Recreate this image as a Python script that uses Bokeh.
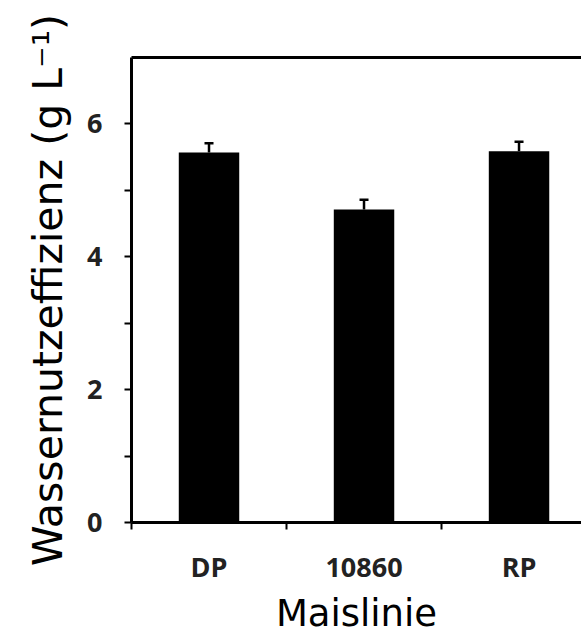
from bokeh.plotting import figure
from bokeh.models import Range1d, FixedTicker, Whisker, TeeHead, LinearAxis, ColumnDataSource
from bokeh.embed import file_html
from bokeh.resources import INLINE

categories = ["DP", "10860", "RP"]
values = [5.57, 4.71, 5.59]
errors = [0.14, 0.15, 0.14]
y_ticks = [0, 2, 4, 6]
y_minor = [1, 3, 5]

xs = list(range(len(categories)))
src = ColumnDataSource(dict(
    x=xs,
    top=values,
    upper=[v + e for v, e in zip(values, errors)],
))

p = figure(width=581, height=637, x_range=Range1d(-0.5, 2.403), y_range=Range1d(0, 7),
           output_backend="svg", toolbar_location=None,
           min_border_left=131, min_border_top=57, min_border_right=0, min_border_bottom=114)
p.outline_line_color = None
p.grid.visible = False
p.background_fill_color = "white"
p.border_fill_color = "white"

p.vbar(x="x", top="top", width=0.39, bottom=0, source=src, fill_color="black", line_color=None)
p.add_layout(Whisker(base="x", upper="upper", lower="top", source=src,
                     line_width=2.5, line_color="black",
                     upper_head=TeeHead(size=9, line_width=2.5, line_color="black"),
                     lower_head=None))

tick_font = "Open Sans"

xa = p.xaxis[0]
xa.ticker = FixedTicker(ticks=xs, minor_ticks=[-0.5, 0.5, 1.5])
xa.major_label_overrides = {i: c for i, c in zip(xs, categories)}
xa.major_tick_line_color = None
xa.major_tick_in = 0
xa.major_tick_out = 0
xa.minor_tick_in = 0
xa.minor_tick_out = 7
xa.minor_tick_line_width = 2
xa.minor_tick_line_color = "black"
xa.axis_line_width = 3
xa.axis_line_color = "black"
xa.major_label_standoff = 18
xa.major_label_text_font = tick_font
xa.major_label_text_font_style = "bold"
xa.major_label_text_font_size = "27px"
xa.major_label_text_color = "#222222"
xa.axis_label = "Maislinie"
xa.axis_label_text_font = "DejaVu Sans"
xa.axis_label_text_font_style = "normal"
xa.axis_label_text_font_size = "37px"
xa.axis_label_text_color = "black"
xa.axis_label_standoff = 4

ya = p.yaxis[0]
ya.ticker = FixedTicker(ticks=y_ticks, minor_ticks=y_minor)
ya.major_tick_in = 0
ya.major_tick_out = 7
ya.minor_tick_in = 0
ya.minor_tick_out = 7
ya.major_tick_line_width = 2
ya.minor_tick_line_width = 2
ya.axis_line_width = 3
ya.axis_line_color = "black"
ya.major_label_standoff = 22
ya.major_label_text_font = tick_font
ya.major_label_text_font_style = "bold"
ya.major_label_text_font_size = "27px"
ya.major_label_text_color = "#222222"
ya.axis_label = "Wassernutzeffizienz (g L\u207b\u00b9)"
ya.axis_label_text_font = "DejaVu Sans"
ya.axis_label_text_font_style = "normal"
ya.axis_label_text_font_size = "41px"
ya.axis_label_text_color = "black"
ya.axis_label_standoff = 12

top = LinearAxis(ticker=FixedTicker(ticks=[]), axis_line_width=3, axis_line_color="black",
                 major_tick_in=0, major_tick_out=0, minor_tick_in=0, minor_tick_out=0,
                 major_label_text_font_size="0px", major_label_standoff=0)
p.add_layout(top, "above")

open("out.html", "w").write(file_html(p, INLINE))
